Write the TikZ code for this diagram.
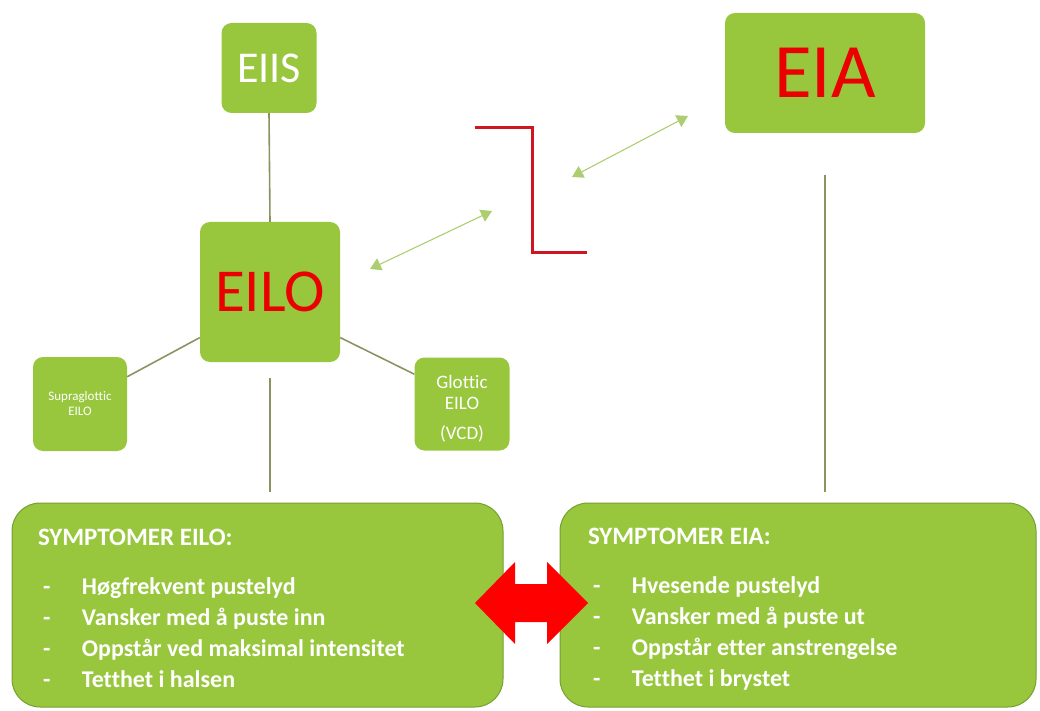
\documentclass[tikz,border=0pt]{standalone}
\usepackage{fontspec}
\setmainfont{Carlito}[Ligatures=NoCommon]
\usepackage{tikz}
\usetikzlibrary{calc}
\usetikzlibrary{arrows.meta}
\usetikzlibrary{positioning}

\definecolor{boxgreen}{RGB}{152,199,62}
\definecolor{boxedge}{RGB}{118,160,48}
\definecolor{linkolive}{RGB}{138,148,96}
\definecolor{arrowgreen}{RGB}{172,206,112}
\definecolor{zred}{RGB}{205,22,34}
\definecolor{txtred}{RGB}{235,0,0}

\tikzset{
  box/.style={fill=boxgreen, rounded corners=10pt, text=white, align=center, inner sep=0pt},
  sympbox/.style={fill=boxgreen, draw=boxedge, line width=1pt, rounded corners=28pt, text=white,
    align=flush left, inner xsep=26pt, inner ysep=0pt, minimum height=204pt,
    font=\fontsize{24}{31}\selectfont\bfseries},
  link/.style={draw=linkolive, line width=1.6pt},
  twoway/.style={draw=arrowgreen, line width=1.1pt,
    {Triangle[length=11pt,width=13pt]}-{Triangle[length=11pt,width=13pt]}}
}
\newcommand{\sympitem}[1]{\hspace*{5pt}\makebox[39pt][l]{-}#1}
\newcommand{\symphead}[1]{{\fontsize{25}{26}\selectfont\rule{0pt}{24pt}#1}}

\begin{document}
\begin{tikzpicture}[x=1pt,y=-1pt]
  \useasboundingbox (0,0) rectangle (1040,711);

  % top boxes
  \node[box, minimum width=95pt, minimum height=90pt, font=\fontsize{44}{44}\selectfont] (eiis) at (269,68) {EIIS};
  \node[box, minimum width=140pt, minimum height=140pt, text=txtred, font=\fontsize{61}{61}\selectfont] (eilo) at (270,292) {EILO};
  \node[box, minimum width=200pt, minimum height=120pt, text=txtred, font=\fontsize{77}{77}\selectfont] (eia) at (825,73) {EIA};

  % small boxes
  \node[box, minimum width=94pt, minimum height=94pt, font=\fontsize{13}{15}\selectfont] (supra) at (80,404)
    {Supraglottic\\EILO};
  \node[box, minimum width=95pt, minimum height=93pt, font=\fontsize{19}{21}\selectfont] (glottic) at (462,404)
    {\rule{0pt}{22pt}Glottic\\EILO\\[9pt](VCD)};

  % symptom boxes
  \node[sympbox, minimum width=491pt, text width=439pt] (leftsymp) at (257.5,605)
    {\symphead{SYMPTOMER EILO:}\\[18pt]
     \sympitem{Høgfrekvent pustelyd}\\
     \sympitem{Vansker med å puste inn}\\
     \sympitem{Oppstår ved maksimal intensitet}\\
     \sympitem{Tetthet i halsen}};
  \node[sympbox, minimum width=476pt, text width=420pt, inner xsep=28pt] (rightsymp) at (798,605)
    {\symphead{SYMPTOMER EIA:}\\[18pt]
     \sympitem{Hvesende pustelyd}\\
     \sympitem{Vansker med å puste ut}\\
     \sympitem{Oppstår etter anstrengelse}\\
     \sympitem{Tetthet i brystet}};

  % links
  \draw[link] (eiis.south) -- (eilo.north);
  \draw[link] (supra.30) -- (eilo.213);
  \draw[link] (eilo.-33) -- (glottic.148);
  \draw[link] ($(eilo.south)+(0,16)$) -- ($(eilo.south |- leftsymp.north)+(0,-11)$);
  \draw[link] ($(eia.south)+(0,42)$) -- ($(eia.south |- rightsymp.north)+(0,-11)$);

  % red step
  \draw[zred, line width=3pt] (475,128) -- (532,128) -- (532,252) -- (587,252);

  % green two-way arrows
  \coordinate (a1) at (370,269);
  \coordinate (a2) at (492,211);
  \coordinate (b1) at (572,177);
  \coordinate (b2) at (688,116);
  \draw[twoway] (a1) -- (a2);
  \draw[twoway] (b1) -- (b2);

  % red double arrow between the symptom boxes
  \fill[red] (475,603) -- (515,562) -- (515,584) -- (547,584) -- (547,562) -- (588,603)
    -- (547,644) -- (547,622) -- (515,622) -- (515,644) -- cycle;
\end{tikzpicture}
\end{document}
